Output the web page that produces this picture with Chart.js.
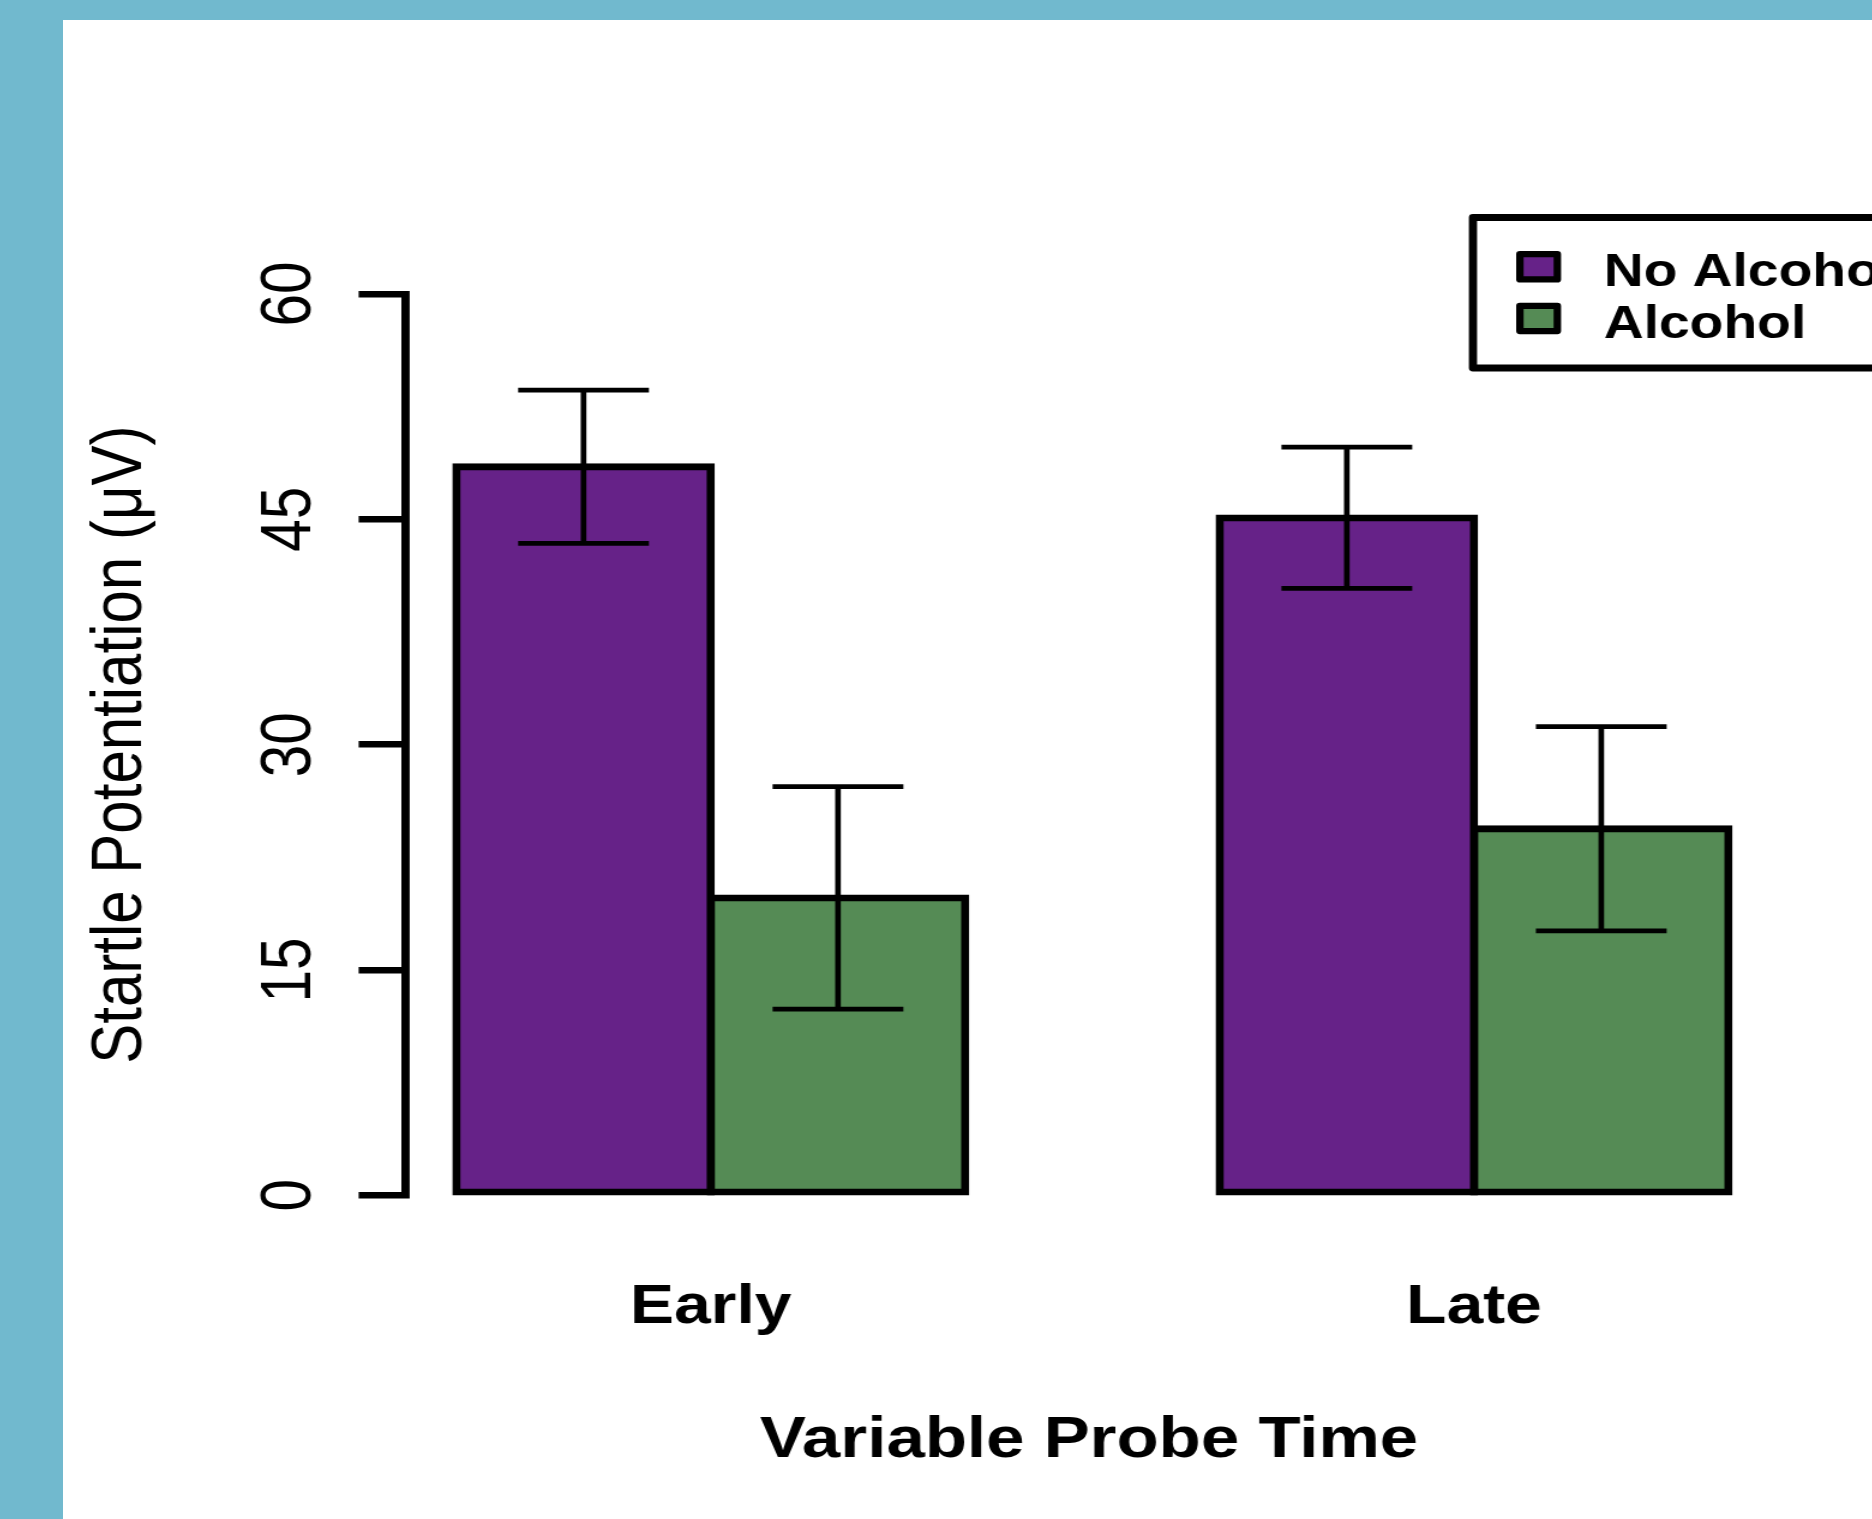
<!DOCTYPE html>
<html lang="en">
<head>
    <meta charset="UTF-8">
    <title>Startle Potentiation by Variable Probe Time</title>
    <script src="https://cdn.jsdelivr.net/npm/chart.js@4.4.0/dist/chart.umd.min.js"></script>
    <style>
        html, body {
            margin: 0;
            padding: 0;
            width: 1872px;
            height: 1519px;
            overflow: hidden;
            background: #71b9ce;
        }
        /* the original figure is stretched sideways, so the whole canvas is too */
        .plot-wrap {
            position: absolute;
            left: 63px;
            top: 20px;
            transform: scaleX(1.2);
            transform-origin: 0 0;
        }
        canvas {
            display: block;
            background: #ffffff;
        }
    </style>
</head>
<body>
    <div class="plot-wrap">
        <canvas id="startleChart" width="1600" height="1500"></canvas>
    </div>

    <script>
        // data
        const categories = ['Early', 'Late'];
        const seriesNames = ['No Alcohol', 'Alcohol'];
        const noAlcoholMeans = [48.5, 45.1];
        const alcoholMeans = [19.8, 24.4];
        const noAlcoholSE = [5.1, 4.7];
        const alcoholSE = [7.4, 6.8];
        const yTicks = [0, 15, 30, 45, 60];

        const CANVAS_H = 1500;
        const BAR_LINE = 6.8;
        const FONT = '"Liberation Sans", Arial, Helvetica, sans-serif';
        Chart.defaults.font.family = FONT;
        Chart.defaults.color = '#000';

        // mean +/- SE whiskers on top of each bar
        const errorBars = {
            id: 'errorBars',
            afterDatasetsDraw(chart) {
                const ctx = chart.ctx;
                const yScale = chart.scales.y;
                ctx.save();
                ctx.strokeStyle = '#000';
                ctx.lineWidth = 4.7;
                chart.data.datasets.forEach((ds, i) => {
                    chart.getDatasetMeta(i).data.forEach((bar, j) => {
                        const m = ds.data[j].y;
                        const e = ds.errors[j];
                        const top = yScale.getPixelForValue(m + e);
                        const bot = yScale.getPixelForValue(m - e);
                        const half = bar.width * 0.257;
                        ctx.beginPath();
                        ctx.moveTo(bar.x, top);
                        ctx.lineTo(bar.x, bot);
                        ctx.moveTo(bar.x - half, top);
                        ctx.lineTo(bar.x + half, top);
                        ctx.moveTo(bar.x - half, bot);
                        ctx.lineTo(bar.x + half, bot);
                        ctx.stroke();
                    });
                });
                ctx.restore();
            }
        };

        // boxed legend in the top right, running off the edge like the original
        const boxLegend = {
            id: 'boxLegend',
            afterDraw(chart) {
                const ctx = chart.ctx;
                ctx.save();
                ctx.strokeStyle = '#000';
                ctx.lineJoin = 'round';
                ctx.lineWidth = 6.8;
                ctx.strokeRect(1175, 197.5, 520, 150.5);
                ctx.font = 'bold 46px ' + FONT;
                ctx.textBaseline = 'alphabetic';
                ctx.textAlign = 'left';
                chart.data.datasets.forEach((ds, i) => {
                    const cy = 246.8 + i * 51.7;
                    ctx.beginPath();
                    ctx.rect(1229.7 - 15.6, cy - 12.6, 31.2, 25.2);
                    ctx.fillStyle = ds.backgroundColor;
                    ctx.fill();
                    ctx.lineWidth = 6.2;
                    ctx.stroke();
                    ctx.fillStyle = '#000';
                    ctx.fillText(ds.label, 1284, cy + 19.5);
                });
                ctx.restore();
            }
        };

        new Chart(document.getElementById('startleChart'), {
            type: 'bar',
            data: {
                datasets: [{
                    label: seriesNames[0],
                    data: categories.map((c, i) => ({ x: i + 1, y: noAlcoholMeans[i] })),
                    errors: noAlcoholSE,
                    backgroundColor: '#662288'
                }, {
                    label: seriesNames[1],
                    data: categories.map((c, i) => ({ x: i + 1, y: alcoholMeans[i] })),
                    errors: alcoholSE,
                    backgroundColor: '#558b55'
                }]
            },
            options: {
                responsive: false,
                animation: false,
                events: [],
                categoryPercentage: 0.6667,
                barPercentage: 1.0,
                datasets: {
                    bar: {
                        borderColor: '#000',
                        borderWidth: BAR_LINE,
                        borderSkipped: false,
                        // push the border half outside so it sits centred on the bar edge
                        inflateAmount: BAR_LINE / 2,
                        clip: false
                    }
                },
                layout: {
                    padding: { top: 274, left: 0, right: 175.4, bottom: 0 }
                },
                plugins: {
                    legend: { display: false },
                    tooltip: { enabled: false }
                },
                scales: {
                    x: {
                        type: 'linear',
                        min: 0.6,
                        max: 2.391,
                        offset: false,
                        afterBuildTicks: (s) => { s.ticks = categories.map((c, i) => ({ value: i + 1 })); },
                        afterFit: (s) => { s.height = CANVAS_H - 1175.3; },
                        grid: { display: false, drawTicks: false },
                        border: { display: false },
                        ticks: {
                            callback: (v) => categories[v - 1],
                            autoSkip: false,
                            maxRotation: 0,
                            padding: 80,
                            color: '#000',
                            font: { size: 55, weight: 'bold' }
                        },
                        title: {
                            display: true,
                            text: 'Variable Probe Time',
                            color: '#000',
                            font: { size: 57.5, weight: 'bold' },
                            padding: { top: 0, bottom: 44 }
                        }
                    },
                    y: {
                        min: 0,
                        max: 60,
                        afterBuildTicks: (s) => { s.ticks = yTicks.map(v => ({ value: v })); },
                        afterFit: (s) => { s.width = 285.4; },
                        grid: {
                            drawOnChartArea: false,
                            drawTicks: true,
                            tickLength: 39,
                            color: '#000',
                            lineWidth: 6.4
                        },
                        border: { display: true, color: '#000', width: 6.9 },
                        ticks: {
                            minRotation: 90,
                            maxRotation: 90,
                            crossAlign: 'center',
                            padding: 23.5,
                            color: '#000',
                            font: { size: 58.5 }
                        },
                        title: {
                            display: true,
                            text: 'Startle Potentiation (μV)',
                            color: '#000',
                            font: { size: 60 },
                            padding: { top: 12, bottom: 0 }
                        }
                    }
                }
            },
            plugins: [errorBars, boxLegend]
        });
    </script>
</body>
</html>
